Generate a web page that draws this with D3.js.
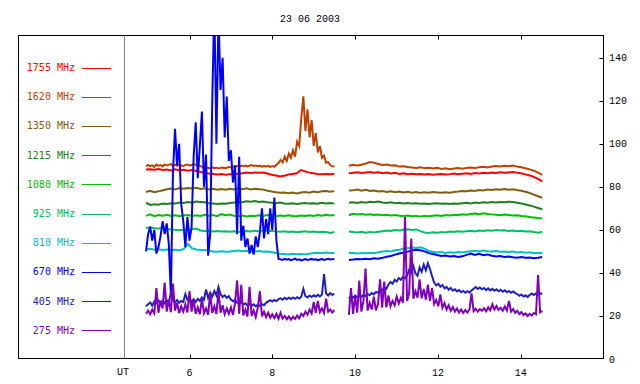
<!DOCTYPE html>
<html><head><meta charset="utf-8">
<script src="https://cdn.jsdelivr.net/npm/d3@7"></script>
<style>body{margin:0;background:#fff}svg{display:block}</style>
</head><body><svg id="c" width="640" height="384"></svg>
<script>
const title = "23 06 2003";
const freqs = ["1755 MHz","1620 MHz","1350 MHz","1215 MHz","1080 MHz","925 MHz","810 MHz","670 MHz","405 MHz","275 MHz"];
const colors = ["#ff0000","#c04000","#806010","#208020","#00c000","#00c060","#00c0c0","#0000ff","#2020c0","#8000c0"];
const xTicks = [6,8,10,12,14];
const yTicks = [0,20,40,60,80,100,120,140];
const span1 = [4.95, 9.50];
const span2 = [9.85, 14.52];

const f1755a = [88.0,88.2,87.9,88.3,87.8,88.0,87.6,88.1,87.7,87.9,87.5,87.8,87.4,86.9,86.5,86.2,86.0,85.7,85.9,85.6,85.8,85.9,86.1,86.3,86.6,86.4,86.7,86.5,86.6,86.2,85.6,85.3,84.8,85.1,85.7,86.0,86.3,87.8,87.2,86.6,86.3,86.0,85.8,86.0,85.9,86.1];
const f1755b = [86.3,86.5,86.8,86.4,86.7,86.9,86.5,86.8,86.3,86.6,86.2,86.5,86.0,86.3,85.9,86.1,85.8,86.0,85.7,85.9,85.6,85.8,86.0,85.7,85.9,86.2,85.9,86.1,86.3,86.0,86.4,86.2,86.5,86.3,86.6,86.4,86.8,86.5,86.7,86.9,86.6,86.3,85.8,85.3,84.6,83.7,82.5];

const f1620a = [89.5,90.2,89.6,90.0,89.3,90.3,89.8,90.1,89.5,90.4,
89.9,90.2,90.6,89.7,90.3,89.8,90.5,90.0,89.6,90.2,
90.4,89.9,90.1,90.6,90.2,90.0,89.8,89.3,89.0,88.8,
88.9,88.6,89.1,88.7,88.9,88.5,88.8,89.0,88.7,88.9,
89.2,89.0,89.5,89.3,89.7,89.4,89.8,89.6,89.9,89.5,
89.8,90.1,89.7,89.9,89.6,89.8,89.4,89.7,89.5,89.8,
89.3,89.6,89.4,90.2,91.0,92.5,91.3,94.0,92.0,95.5,
93.5,97.0,94.0,101.0,99.0,112.0,122.0,106.0,116.0,103.0,
111.0,99.0,105.0,96.0,99.0,93.5,94.5,91.2,91.5,90.0,
89.6,89.3];
const f1620b = [89.8,90.2,89.9,90.3,90.8,91.5,91.2,90.6,90.1,90.4,89.9,90.0,89.4,89.6,89.2,89.0,88.8,89.1,88.7,88.9,88.5,88.8,88.3,88.6,88.2,88.5,88.7,88.4,88.8,89.0,88.7,89.1,89.3,89.0,89.4,89.7,89.5,89.8,89.6,89.9,89.4,89.1,88.6,88.1,87.5,86.6,85.6];

const f1350a = [77.6,78.2,77.5,77.9,78.4,78.9,79.2,78.8,79.4,79.1,79.5,79.2,79.6,79.0,79.3,78.8,79.1,78.6,79.0,78.7,79.1,78.8,79.2,78.9,79.3,78.8,79.1,78.9,78.7,78.2,77.8,77.5,77.2,77.4,77.0,77.3,76.9,77.4,77.6,77.3,77.8,77.5,77.9,78.1,77.7,78.0];
const f1350b = [78.3,78.4,78.7,78.2,78.6,78.1,78.3,77.8,78.0,77.6,77.9,77.5,77.8,77.4,77.7,77.3,77.6,77.2,77.5,77.3,77.6,77.4,77.2,77.5,77.3,77.6,77.8,78.1,77.9,78.3,78.1,78.5,78.3,78.7,78.5,78.9,78.6,79.0,78.7,78.9,78.5,78.2,77.7,77.1,76.4,75.6,74.9];

const f1215a = [72.6,71.6,71.9,71.7,72.2,72.0,72.4,72.3,72.7,72.5,72.9,72.6,73.2,73.0,72.8,72.4,72.2,72.0,72.3,72.1,72.5,72.7,73.0,72.8,73.3,73.1,73.4,73.0,73.2,72.8,72.6,72.4,72.7,72.3,72.1,72.4,72.0,72.3,72.5,72.2,72.4,72.1,72.6,72.3,72.5,72.2];
const f1215b = [72.6,72.8,72.5,72.9,72.6,73.1,72.8,73.2,72.7,72.5,72.8,72.4,72.6,72.3,72.5,72.2,72.4,72.1,72.3,72.0,72.2,72.4,72.1,72.3,72.0,72.3,72.1,72.4,72.6,72.3,72.7,72.5,72.8,72.6,72.9,72.7,73.0,72.8,73.1,72.9,72.6,72.3,71.8,71.3,70.8,70.2,69.6];

const f1080a = [66.5,67.2,66.4,66.9,66.6,67.0,66.5,66.8,66.3,66.7,66.9,66.4,66.8,66.5,67.0,66.6,66.9,66.4,67.3,66.8,67.1,66.6,66.3,66.7,66.2,66.6,66.4,66.8,66.5,66.9,66.6,66.3,66.7,66.4,66.8,66.5,66.3,66.7,66.4,66.8,66.5,66.9,66.6,67.0,66.7,66.9];
const f1080b = [66.8,67.5,67.2,67.4,67.0,67.3,66.9,67.1,66.8,67.0,66.7,66.9,66.6,66.4,66.7,66.3,66.5,66.2,66.5,66.3,66.6,66.8,66.5,66.9,66.7,67.0,66.8,67.2,67.0,67.4,67.6,67.3,67.7,67.4,67.2,67.0,66.8,67.1,66.9,66.7,66.8,66.5,66.3,66.0,65.8,65.5,65.3];

const f925a = [60.9,61.2,60.8,60.6,60.9,60.4,60.2,60.0,59.8,60.1,59.9,60.3,60.6,59.7,59.5,59.6,59.3,59.5,59.2,59.4,59.1,59.3,59.0,59.2,59.5,59.3,59.6,59.4,59.7,59.5,59.6,59.3,59.1,59.3,59.0,59.2,58.9,59.1,59.3,59.0,59.2,58.9,59.1,59.0,58.6,59.0];
const f925b = [59.2,59.0,58.8,59.1,58.7,59.0,58.8,59.1,59.4,59.7,59.5,59.9,59.7,60.1,60.3,60.0,60.2,59.4,58.8,58.6,58.9,58.7,59.0,58.8,59.2,59.0,59.3,59.1,59.4,59.6,59.3,59.7,59.5,59.8,59.6,59.9,59.7,59.8,59.5,59.7,59.4,59.6,59.2,59.4,59.0,58.7,59.1];

const f810a = [50.9,51.2,50.8,51.0,50.7,50.9,50.6,50.8,50.5,51.1,53.5,51.4,50.9,50.6,50.7,50.4,50.0,49.8,50.1,49.8,49.9,50.2,50.4,50.1,50.3,50.0,49.9,50.2,49.8,50.0,49.7,49.3,48.9,48.8,48.6,48.9,48.7,48.8,48.6,48.9,49.2,49.4,49.2,49.5,49.3,49.2];
const f810b = [49.4,49.2,49.0,49.3,49.1,49.4,49.2,49.6,49.9,50.2,50.0,50.5,50.8,51.2,51.5,51.8,51.6,51.9,51.3,50.2,49.8,49.5,49.7,49.3,49.6,49.4,49.7,49.5,49.8,50.1,50.3,50.0,50.4,50.1,49.9,50.2,49.8,50.0,49.7,49.9,49.5,49.7,49.4,49.6,49.2,49.4,49.2];

const f670a = [50.0,58.0,61.5,55.0,60.0,49.0,52.0,57.0,64.0,58.0,
63.0,53.5,30.0,86.0,107.0,90.0,100.0,72.0,64.0,52.0,
66.0,55.0,61.0,94.0,110.0,84.0,99.0,115.0,80.0,95.0,
48.0,58.0,120.0,165.0,100.0,160.0,125.0,140.0,103.0,122.0,
92.0,97.0,82.0,90.0,58.0,94.0,55.0,62.0,52.0,56.0,
49.0,53.0,48.5,57.0,52.0,59.0,70.0,56.0,65.0,58.0,
70.0,60.0,75.0,55.0,46.5,
46.3,46.0,46.5,46.1,46.4,45.9,46.2,46.6,46.0,46.3,45.8,46.1,46.4,46.0,46.2,46.5,46.1,46.3,45.9,46.2,46.4,46.0,46.3,46.6,46.2,46.4,46.5];
const f670b = [46.0,46.2,46.5,46.3,46.6,46.4,46.8,46.6,47.0,47.5,47.9,48.5,49.0,49.5,49.9,50.4,50.8,50.5,50.0,49.2,48.8,48.3,47.9,48.1,47.6,47.8,47.4,47.7,48.4,49.0,48.3,48.9,48.2,48.6,48.0,47.6,47.8,47.4,47.6,47.3,47.1,47.4,47.0,47.2,46.8,47.0,47.4];

const f405a = [24.5,25.5,26.3,24.8,26.8,26.0,27.2,26.3,27.0,25.9,
27.3,26.4,30.5,27.5,26.2,27.4,26.1,27.0,26.5,30.2,
27.6,28.3,26.4,27.8,26.5,28.0,27.0,28.6,27.5,32.3,
28.4,30.8,29.0,31.6,29.5,33.5,30.2,28.8,29.6,28.4,
29.2,27.6,26.8,27.5,26.2,25.8,26.5,25.3,25.9,24.8,
25.6,24.6,25.4,24.5,25.2,24.7,25.5,25.0,26.1,26.8,
27.3,26.7,27.4,26.9,27.8,28.2,27.5,28.4,27.8,28.5,
27.9,28.6,28.0,28.7,28.1,28.9,32.6,29.2,28.6,29.5,
28.8,29.6,29.0,29.8,29.1,30.0,39.5,30.4,29.5,30.6,
29.8,30.3];
const f405b = [28.0,29.2,28.5,29.5,28.7,29.3,28.9,29.8,29.2,30.2,
29.6,30.6,30.0,31.2,30.8,32.5,31.8,33.4,32.6,34.5,
35.8,35.0,36.8,36.0,37.6,36.8,38.2,37.5,38.8,41.5,
40.2,43.2,39.8,38.6,42.5,40.5,43.8,41.2,44.5,41.8,
38.5,35.5,34.2,35.0,33.6,34.4,32.8,33.5,32.2,33.0,
31.8,32.4,31.4,32.0,31.0,31.6,30.8,31.5,30.9,31.8,
32.6,33.4,32.5,33.2,32.4,33.0,32.0,32.8,31.9,32.6,
31.7,32.4,31.5,32.2,31.3,31.9,31.0,31.6,30.8,31.4,
30.6,30.2,29.4,30.0,29.0,29.6,28.8,29.8,30.4,29.7,
30.5,29.9,30.6,30.2];

const f275a = [21.0,22.5,20.8,23.0,21.2,33.0,21.5,27.0,23.5,35.5,
22.0,27.5,21.8,35.0,22.5,26.0,21.3,24.5,22.0,25.5,
21.6,31.5,22.0,27.5,21.0,24.0,20.8,28.0,21.2,23.5,
20.6,30.5,21.4,24.5,20.9,31.5,21.5,25.0,20.8,23.5,
21.0,24.0,20.4,26.0,36.5,21.0,34.5,20.2,23.0,19.8,
33.5,20.0,22.5,19.5,24.0,31.5,19.8,22.0,19.4,21.5,
19.2,20.8,19.0,21.0,18.7,21.5,18.8,20.0,18.5,19.8,
18.3,19.6,18.6,20.2,18.9,21.0,20.0,22.0,20.6,23.0,
21.2,26.5,21.5,27.0,21.8,23.5,21.4,28.0,22.0,23.0,
21.6,22.8];
const f275b = [20.5,33.0,21.0,29.5,21.5,36.5,22.0,27.0,42.0,22.5,
26.0,23.0,29.0,22.6,25.5,37.0,23.8,36.0,24.0,29.5,
24.5,27.0,25.0,29.0,25.8,28.5,26.2,66.0,27.0,30.5,
56.0,28.0,31.5,28.5,37.0,28.2,32.5,27.6,34.5,27.0,
33.0,25.5,27.5,24.5,30.0,23.8,26.0,23.0,25.0,22.4,
24.2,22.0,23.5,21.6,23.0,21.4,22.8,21.6,23.0,30.5,
22.2,23.4,22.0,23.2,22.4,23.6,22.2,24.0,22.6,25.5,
23.0,24.6,22.8,23.8,22.4,24.4,22.6,27.0,22.0,23.2,
21.4,22.4,20.8,21.8,20.4,21.2,20.0,21.0,20.2,21.4,
20.8,39.0,21.6,22.4];

const segA = [f1755a,f1620a,f1350a,f1215a,f1080a,f925a,f810a,f670a,f405a,f275a];
const segB = [f1755b,f1620b,f1350b,f1215b,f1080b,f925b,f810b,f670b,f405b,f275b];

const svg = d3.select("#c");
const W = 640, H = 384;
const L = 18.5, R = 603.5, T = 35.5, B = 358.5;
const x = d3.scaleLinear().domain([6,16]).range([189.5,603.5]);
const y = d3.scaleLinear().domain([0,140]).range([359,57.7]);

svg.append("rect").attr("width",W).attr("height",H).attr("fill","#fff");
svg.append("defs").append("clipPath").attr("id","clip")
  .append("rect").attr("x",L).attr("y",T).attr("width",R-L).attr("height",B-T);

function toPts(vals, span){
  const n = vals.length;
  return vals.map((v,i)=>[span[0]+(span[1]-span[0])*i/(n-1), v]);
}
const line = d3.line().x(d=>x(d[0])).y(d=>y(d[1]));

const plot = svg.append("g").attr("clip-path","url(#clip)");
freqs.forEach((f,i)=>{
  [toPts(segA[i],span1), toPts(segB[i],span2)].forEach(pts=>{
    plot.append("path").attr("d",line(pts)).attr("fill","none")
      .attr("stroke",colors[i]).attr("stroke-width",2).attr("stroke-linejoin","miter");
  });
});

// frame
svg.append("rect").attr("x",L).attr("y",T).attr("width",R-L).attr("height",B-T)
  .attr("fill","none").attr("stroke","#000").attr("stroke-width",1);
// UT separator
svg.append("line").attr("x1",124.5).attr("x2",124.5).attr("y1",T).attr("y2",B)
  .attr("stroke","#808080").attr("stroke-width",1);

// x ticks (top & bottom, inward)
xTicks.forEach(t=>{
  const xx = Math.round(x(t))+0.5;
  svg.append("line").attr("x1",xx).attr("x2",xx).attr("y1",B).attr("y2",B-4).attr("stroke","#000");
  svg.append("line").attr("x1",xx).attr("x2",xx).attr("y1",T).attr("y2",T+4).attr("stroke","#000");
  svg.append("text").attr("x",x(t)).attr("y",376).attr("text-anchor","middle")
    .attr("font-family","Liberation Mono, DejaVu Sans Mono, monospace").attr("font-size",10).text(t);
});
svg.append("text").attr("x",123).attr("y",375).attr("text-anchor","middle")
  .attr("font-family","Liberation Mono, DejaVu Sans Mono, monospace").attr("font-size",10).text("UT");

// y ticks (right, inward)
yTicks.forEach(v=>{
  const yy = Math.round(y(v))+0.5;
  if(v>0) svg.append("line").attr("x1",R).attr("x2",R-4).attr("y1",yy).attr("y2",yy).attr("stroke","#000");
  svg.append("text").attr("x",609).attr("y",y(v)+3.5)
    .attr("font-family","Liberation Mono, DejaVu Sans Mono, monospace").attr("font-size",10).text(v);
});

// title
svg.append("text").attr("x",310).attr("y",22).attr("text-anchor","middle")
  .attr("font-family","Liberation Mono, DejaVu Sans Mono, monospace").attr("font-size",10).text(title);

// legend
freqs.forEach((f,i)=>{
  const ly = 67.5 + i*29.2;
  svg.append("text").attr("x",75).attr("y",ly+3.5).attr("text-anchor","end")
    .attr("font-family","DejaVu Sans Mono, monospace").attr("font-size",10)
    .attr("fill",colors[i]).text(f);
  svg.append("line").attr("x1",82).attr("x2",111).attr("y1",Math.round(ly)+0.5).attr("y2",Math.round(ly)+0.5)
    .attr("stroke",colors[i]).attr("stroke-width",1);
});
</script></body></html>
